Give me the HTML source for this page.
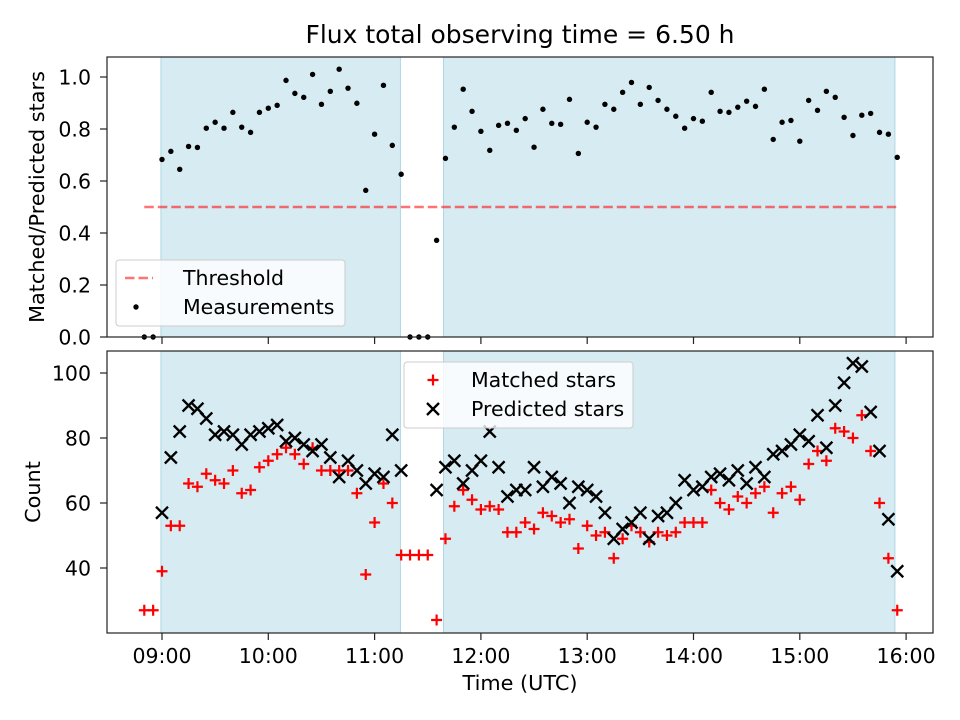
<!DOCTYPE html>
<html><head><meta charset="utf-8">
<style>
html,body{margin:0;padding:0;background:#fff;}
svg{display:block;font-family:"DejaVu Sans","Liberation Sans",sans-serif;}
</style></head>
<body>
<svg id="chart" width="960" height="720" viewBox="0 0 960 720" xmlns="http://www.w3.org/2000/svg">
<rect width="960" height="720" fill="#fff"/>
<text x="520" y="43" text-anchor="middle" font-size="25" fill="#000">Flux total observing time = 6.50 h</text>
<g id="top"></g>
<g id="bot"></g>
<text x="520" y="690" text-anchor="middle" font-size="20.8">Time (UTC)</text>
<text transform="translate(44,197) rotate(-90)" text-anchor="middle" font-size="20.8">Matched/Predicted stars</text>
<text transform="translate(40,492) rotate(-90)" text-anchor="middle" font-size="20.8">Count</text>
</svg>
<script>
const times = ["08:50","08:55","09:00","09:05","09:10","09:15","09:20","09:25","09:30","09:35","09:40","09:45","09:50","09:55","10:00","10:05","10:10","10:15","10:20","10:25","10:30","10:35","10:40","10:45","10:50","10:55","11:00","11:05","11:10","11:15","11:20","11:25","11:30","11:35","11:40","11:45","11:50","11:55","12:00","12:05","12:10","12:15","12:20","12:25","12:30","12:35","12:40","12:45","12:50","12:55","13:00","13:05","13:10","13:15","13:20","13:25","13:30","13:35","13:40","13:45","13:50","13:55","14:00","14:05","14:10","14:15","14:20","14:25","14:30","14:35","14:40","14:45","14:50","14:55","15:00","15:05","15:10","15:15","15:20","15:25","15:30","15:35","15:40","15:45","15:50","15:55"];
const ratio = [0,0,0.683,0.714,0.645,0.733,0.729,0.803,0.826,0.803,0.864,0.807,0.787,0.864,0.88,0.891,0.987,0.937,0.922,1.01,0.895,0.945,1.03,0.957,0.899,0.564,0.78,0.968,0.737,0.626,0,0,0,0.372,0.687,0.807,0.953,0.868,0.791,0.718,0.814,0.822,0.795,0.84,0.73,0.876,0.822,0.818,0.914,0.706,0.826,0.807,0.895,0.876,0.941,0.979,0.895,0.96,0.91,0.876,0.849,0.803,0.84,0.83,0.941,0.868,0.864,0.884,0.907,0.887,0.953,0.76,0.826,0.833,0.753,0.91,0.872,0.945,0.922,0.845,0.775,0.853,0.86,0.787,0.78,0.691];
const matched = [27,27,39,53,53,66,65,69,67,66,70,63,64,71,73,75,77,75,72,77,70,70,70,70,63,38,54,66,60,44,44,44,44,24,49,59,64,61,58,59,58,51,51,54,52,57,56,54,55,46,53,50,51,43,49,53,51,48,51,50,51,54,54,54,64,60,58,62,60,63,65,57,63,65,61,72,76,73,83,82,80,87,76,60,43,27];
const predicted = [null,null,57,74,82,90,89,86,81,82,81,78,81,82,83,84,79,80,78,76,78,74,68,73,70,66,69,68,81,70,null,null,null,64,71,73,66,70,73,82,71,62,64,64,71,65,68,66,60,65,64,62,57,49,52,54,57,49,56,57,60,67,64,65,68,69,67,70,66,71,68,75,76,78,81,79,87,77,90,97,103,102,88,76,55,39];
const threshold = 0.5;
const spans = [[8.99,11.243],[11.648,15.895]];
const xTickLabels = ["09:00","10:00","11:00","12:00","13:00","14:00","15:00","16:00"];
const topTicks = [0.0,0.2,0.4,0.6,0.8,1.0];
const botTicks = [40,60,80,100];

const NS="http://www.w3.org/2000/svg";
function mk(tag,attrs,parent){const e=document.createElementNS(NS,tag);for(const k in attrs)e.setAttribute(k,attrs[k]);parent.appendChild(e);return e;}
function hrs(s){const p=s.split(":");return +p[0]+(+p[1])/60;}
const L=107,R=933;
const xs=h=>162+(h-9)*106.3;
const yTop=v=>337-v*260;
const yBot=v=>568-(v-40)*3.25;
const topG=document.getElementById('top'), botG=document.getElementById('bot');

function panel(g,y0,y1,ys,ticks,fmt,showX,name){
  spans.forEach(s=>{
    const r=mk('rect',{x:xs(s[0]),y:y0,width:xs(s[1])-xs(s[0]),height:y1-y0,fill:'#add8e6','fill-opacity':0.5,stroke:'#add8e6','stroke-width':1},g);
    
    
  });
  ticks.forEach(t=>{
    const y=ys(t);
    mk('line',{x1:L-7,x2:L,y1:y,y2:y,stroke:'#222','stroke-width':1.2},g);
    const tx=mk('text',{x:L-16,y:y+7.5,'text-anchor':'end','font-size':20.5},g);
    tx.textContent=fmt(t);
    
    
  });
  xTickLabels.forEach(l=>{
    const x=xs(hrs(l));
    mk('line',{x1:x,x2:x,y1:y1,y2:y1+7,stroke:'#222','stroke-width':1.2},g);
    if(showX){
      const tx=mk('text',{x:x,y:663,'text-anchor':'middle','font-size':20.5},g);
      tx.textContent=l;
      
      
    }
  });
}
panel(topG,57,337,yTop,topTicks,t=>t.toFixed(1),false,'top');
panel(botG,351,633,yBot,botTicks,t=>String(t),true,'bottom');

const th=mk('line',{x1:xs(hrs(times[0])),x2:xs(hrs(times[times.length-1])),y1:yTop(threshold),y2:yTop(threshold),stroke:'#ff0000','stroke-opacity':0.55,'stroke-width':2.6,'stroke-dasharray':'9.5,4'},topG);



times.forEach((t,i)=>{
  const c=mk('circle',{cx:xs(hrs(t)),cy:yTop(ratio[i]),r:2.7,fill:'#000'},topG);
  
  
});
times.forEach((t,i)=>{
  const x=xs(hrs(t)),y=yBot(matched[i]);
  const p=mk('path',{d:`M${x-5.5} ${y}H${x+5.5}M${x} ${y-5.5}V${y+5.5}`,stroke:'#ff0000','stroke-width':2.2},botG);
  
  
});
times.forEach((t,i)=>{
  if(predicted[i]===null)return;
  const x=xs(hrs(t)),y=yBot(predicted[i]);
  const p=mk('path',{d:`M${x-6} ${y-6}L${x+6} ${y+6}M${x-6} ${y+6}L${x+6} ${y-6}`,stroke:'#000','stroke-width':2.3},botG);
  
  
});

[[topG,57,337],[botG,351,633]].forEach(a=>{
  const f=mk('rect',{x:L,y:a[1],width:R-L,height:a[2]-a[1],fill:'none',stroke:'#222','stroke-width':1.2},a[0]);
  
  
});

function legend(g,x,y,w,h,items,name){
  const lg=mk('g',{},g);
  
  
  mk('rect',{x:x,y:y,width:w,height:h,rx:3,fill:'#fff','fill-opacity':0.8,stroke:'#ccc','stroke-width':1},lg);
  items.forEach((it,i)=>{
    const cy=y+18+i*29;
    const cx=x+29;
    if(it.type==='dash') mk('line',{x1:cx-20,x2:cx+8,y1:cy,y2:cy,stroke:'#ff0000','stroke-opacity':0.55,'stroke-width':2.6,'stroke-dasharray':'9.5,4'},lg);
    if(it.type==='dot') mk('circle',{cx:cx-9,cy:cy,r:2.7,fill:'#000'},lg);
    if(it.type==='plus') mk('path',{d:`M${cx-5.5} ${cy}H${cx+5.5}M${cx} ${cy-5.5}V${cy+5.5}`,stroke:'#ff0000','stroke-width':2.2},lg);
    if(it.type==='x') mk('path',{d:`M${cx-6} ${cy-6}L${cx+6} ${cy+6}M${cx-6} ${cy+6}L${cx+6} ${cy-6}`,stroke:'#000','stroke-width':2.3},lg);
    const t=mk('text',{x:x+67,y:cy+7,'font-size':20.5},lg);
    t.textContent=it.label;
    
    
  });
}
legend(topG,116,260,229,66,[{type:'dash',label:'Threshold'},{type:'dot',label:'Measurements'}],'top-legend');
legend(botG,404,362,229,66,[{type:'plus',label:'Matched stars'},{type:'x',label:'Predicted stars'}],'bottom-legend');
</script>
</body></html>
